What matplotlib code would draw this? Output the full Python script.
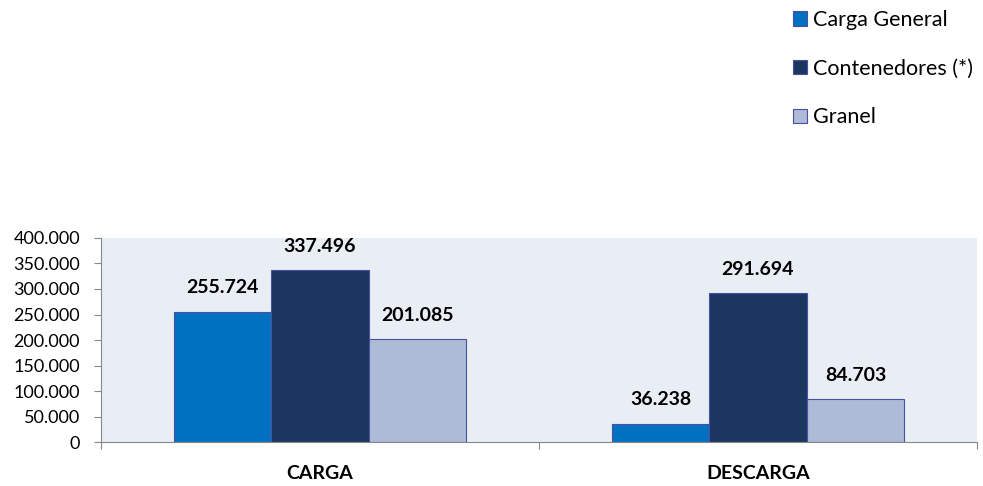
import numpy as np
import matplotlib.pyplot as plt

CATEGORIAS = ['CARGA', 'DESCARGA']
SERIES     = ['Carga General', 'Contenedores (*)', 'Granel']
VALORES    = [
    [255724, 36238],
    [337496, 291694],
    [201085, 84703],
]
COLORES    = ['#0070C0', '#1B375F', '#ADBAD8']
Y_TICKS    = [0, 50000, 100000, 150000, 200000, 250000, 300000, 350000, 400000]

plt.rcParams['font.family'] = ['Lato', 'DejaVu Sans']


def fmt_miles(v):
    return f'{v:,.0f}'.replace(',', '.')


fig = plt.figure(figsize=(9.83, 4.86), dpi=100)
ax = fig.add_axes([0.1027, 0.0905, 0.8912, 0.4198])
ax.set_facecolor('#E9EDF4')

centros = np.arange(len(CATEGORIAS)) + 0.5
ancho = 0.2226
handles = []
for i, (serie, vals, col) in enumerate(zip(SERIES, VALORES, COLORES)):
    xs = centros + (i - 1) * ancho
    b = ax.bar(xs, vals, width=ancho, color=col, edgecolor='#4A4FA0', linewidth=0.8, label=serie)
    handles.append(b)
    for x, v in zip(xs, vals):
        ax.annotate(fmt_miles(v), (x, v), xytext=(0, 17), textcoords='offset points',
                    ha='center', va='center', fontsize=14, fontweight='bold', color='black')

ax.set_xlim(0, 2)
ax.set_ylim(0, 400000)
ax.set_yticks(Y_TICKS)
ax.set_yticklabels([fmt_miles(v) for v in Y_TICKS], fontsize=13)
ax.set_xticks([0, 1, 2])
ax.set_xticklabels([])
ax.tick_params(axis='x', direction='out', length=5, color='#888888')
ax.tick_params(axis='y', direction='out', length=5, color='#888888', pad=10)
for x, lab in zip(centros, CATEGORIAS):
    ax.annotate(lab, (x, 0), xytext=(0, -23), textcoords='offset points', ha='center', va='center',
                fontsize=14, fontweight='bold', annotation_clip=False)

for s in ['top', 'right']:
    ax.spines[s].set_visible(False)
ax.spines['left'].set_color('#888888')
ax.spines['bottom'].set_color('#888888')

fig.legend(handles=handles, labels=SERIES, loc='upper left', bbox_to_anchor=(0.791, 1.01),
           frameon=False, fontsize=15.5, handlelength=0.65, handleheight=0.65,
           handletextpad=0.3, labelspacing=1.33, borderaxespad=0.3)

fig.savefig('out.png', dpi=100)
